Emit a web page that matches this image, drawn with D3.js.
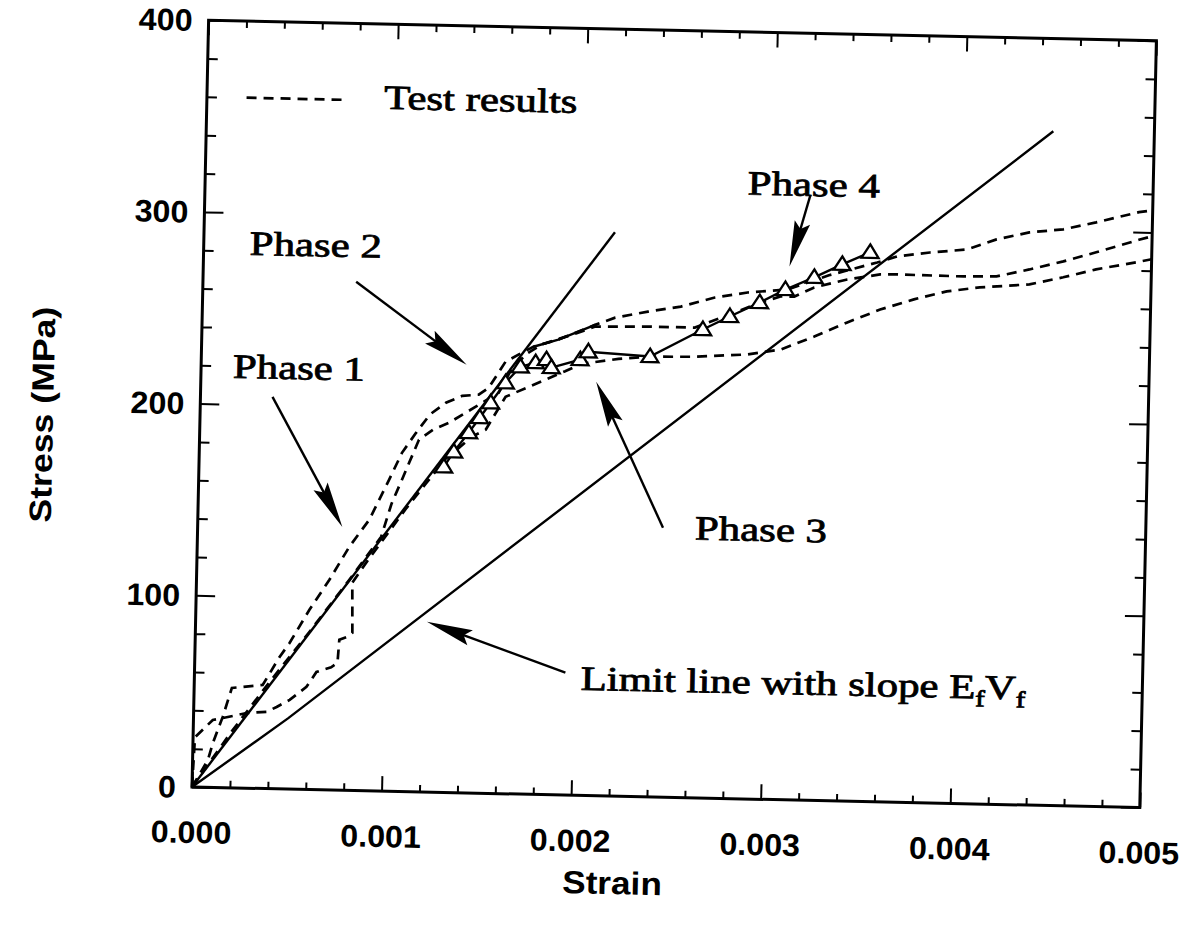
<!DOCTYPE html>
<html><head><meta charset="utf-8">
<script src="https://cdn.jsdelivr.net/npm/d3@7"></script>
<style>body{margin:0;background:#fff}</style>
</head><body>
<svg id="chart" width="1184" height="927"></svg>
<script>
// ---------- axis ticks ----------
const xTicks = [0, 0.001, 0.002, 0.003, 0.004, 0.005];
const xTickLabels = ["0.000", "0.001", "0.002", "0.003", "0.004", "0.005"];
const xMinorTicks = [0.0002,0.0004,0.0006,0.0008,0.0012,0.0014,0.0016,0.0018,0.0022,0.0024,0.0026,0.0028,0.0032,0.0034,0.0036,0.0038,0.0042,0.0044,0.0046,0.0048];
const yTicks = [0, 100, 200, 300, 400];
const yTickLabels = ["0", "100", "200", "300", "400"];
const yMinorTicks = [20,40,60,80,120,140,160,180,220,240,260,280,320,340,360,380];

// ---------- test results (dashed) ----------
const test1Strain = [0,0.000081,0.000105,0.000154,0.000199,0.000361,0.000447,0.000498,0.000599,0.000701,0.000802,0.000904,0.001004,0.001069,0.001141,0.001213,0.001295,0.001380,0.001467,0.001519,0.001605,0.001672,0.001750,0.001881,0.002073,0.002178,0.002350,0.002523,0.002701,0.002873,0.003083,0.003300,0.003553,0.003657,0.003830,0.004024,0.004180,0.004352,0.004531,0.004703,0.004928,0.005000];
const test1Stress = [0,14.3,23.2,36.9,52.1,54.0,68.8,76.2,93.7,109.6,127.0,141.3,162.4,176.6,187.2,197.0,203.2,207.0,207.8,211.5,225.3,229.1,233.4,237.4,245.5,249.5,253.0,256.0,261.1,264.1,266.1,274.0,281.2,284.6,287.0,289.0,294.6,298.6,300.6,304.6,310.4,311.5];

const test2Strain = [0,0.0002,0.0004,0.0006,0.0008,0.000969,0.00102,0.001072,0.001157,0.00123,0.001313,0.001453,0.001572,0.00164,0.00172,0.0018,0.00195,0.002074,0.002352,0.002599,0.002807,0.002943,0.003047,0.00312,0.003224,0.003397,0.00357,0.003659,0.004011,0.004184,0.004357,0.004535,0.004707,0.004931,0.005];
const test2Stress = [0,29,56,82,109,132.6,150,162.6,183.6,189,192.8,201.5,209,222,230,235,240,244.6,245.2,245.2,253.5,259,262.4,262.5,267.5,272,275,275.2,274.9,275.3,279.3,283.9,289,296,298];

const test3Strain = [0,0.00001,0.000102,0.000155,0.00028,0.000385,0.000437,0.000505,0.000592,0.000643,0.00072,0.000753,0.00076,0.0008,0.000828,0.000822,0.0009,0.001,0.0011,0.0012,0.0013,0.00136,0.001435,0.001508,0.001609,0.00172,0.001817,0.00192,0.002004,0.0022,0.002356,0.0026,0.00288,0.003053,0.00323,0.003402,0.003574,0.003751,0.003923,0.004097,0.004359,0.004536,0.004708,0.004918,0.005];
const test3Stress = [0,26,35.2,36.3,39.2,40,42.7,46.5,53.5,61.4,64,66.4,78.4,80,82.2,108.3,120,134,148,161,174,179,185.8,189.6,207,212,216.4,221,225,228,229.5,230,231.8,234.7,241.9,249.6,256.7,262.4,266.9,269.4,271.5,275.6,280.1,284.2,286];

// solid fragment of a test curve
const fragStrain = [0.00175, 0.001881, 0.002073];
const fragStress = [233.4, 237.4, 245.5];

// ---------- model (solid with triangles) ----------
const modelStrain = [0.001291,0.001342,0.001419,0.001475,0.001531,0.001607,0.001684,0.001763,0.00182,0.001847,0.001998,0.00204,0.002366,0.002641,0.002782,0.002938,0.003072,0.003223,0.003369,0.003515];
const modelStress = [169.8,177.7,187.9,195.8,203.7,214.3,222.8,225.1,226.8,222.7,227.2,231.4,229.6,244.3,251.4,259.0,266.1,272.7,279.8,286.4];

// phase-1 straight line and limit line
const phase1LineStrain = [0, 0.002167];
const phase1LineStress = [0, 294];
const limitStrain = [0, 0.0005, 0.004467];
const limitStress = [0, 37, 351.6];

// ---------- annotations (data coordinates) ----------
const arrowTails = [[0.00038,204.3],[0.000808,265.3],[0.002454,140.5],[0.003193,315.4],[0.001956,63.8]];
const arrowTips  = [[0.000763,137.3],[0.0014,223.3],[0.002085,215.9],[0.003091,278.1],[0.00122,88.8]];
const phaseLabels = ["Phase 1","Phase 2","Phase 3","Phase 4"];
const phaseLabelPos = [[0.000168,213.8],[0.000243,278.1],[0.002623,134.7],[0.002862,315.2]];
const legendLine = [[0.000209,360],[0.000734,360]];
const legendText = "Test results";
const legendTextPos = [0.000935,355.8];
const limitLabelPos = [0.002037,55.1];

// ---------- drawing ----------
const svg = d3.select('#chart');
const L = 192, T = 20, W = 948, H = 767;
const g = svg.append('g').attr('transform', `rotate(1.24, ${L}, ${T + H})`);
const x = d3.scaleLinear().domain([0, 0.005]).range([L, L + W]);
const y = d3.scaleLinear().domain([0, 400]).range([T + H, T]);
const SX = 1.26;
const serif = "'Liberation Serif','Times New Roman',serif";
const sans = "'Liberation Sans',Arial,sans-serif";

function addAxis(axisGen, transform, vals, size) {
  const a = g.append('g').attr('transform', transform)
    .call(axisGen.tickValues(vals).tickSize(size).tickFormat(''));
  a.select('.domain').remove();
  a.selectAll('line').attr('stroke', '#000').attr('stroke-width', 2);
}
addAxis(d3.axisBottom(x), `translate(0,${T + H})`, xTicks, -15);
addAxis(d3.axisBottom(x), `translate(0,${T + H})`, xMinorTicks, -7);
addAxis(d3.axisTop(x), `translate(0,${T})`, xTicks, -15);
addAxis(d3.axisTop(x), `translate(0,${T})`, xMinorTicks, -7);
addAxis(d3.axisLeft(y), `translate(${L},0)`, yTicks, -19);
addAxis(d3.axisLeft(y), `translate(${L},0)`, yMinorTicks, -10);
addAxis(d3.axisRight(y), `translate(${L + W},0)`, yTicks, -19);
addAxis(d3.axisRight(y), `translate(${L + W},0)`, yMinorTicks, -10);

g.append('rect').attr('x', L).attr('y', T).attr('width', W).attr('height', H)
  .attr('fill', 'none').attr('stroke', '#000').attr('stroke-width', 3);

// tick labels
xTicks.forEach((v, i) => {
  g.append('text').attr('transform', `translate(${x(v)},${T + H + 56}) scale(1.04,1)`)
    .attr('text-anchor', 'middle').attr('font-family', sans).attr('font-weight', 'bold')
    .attr('font-size', 31).text(xTickLabels[i]);
});
yTicks.forEach((v, i) => {
  g.append('text').attr('transform', `translate(${L - 16},${y(v) + 11}) scale(1.04,1)`)
    .attr('text-anchor', 'end').attr('font-family', sans).attr('font-weight', 'bold')
    .attr('font-size', 31).text(yTickLabels[i]);
});
// axis titles
g.append('text').attr('transform', `translate(${L + 422},${T + H + 98}) scale(1.1,1)`)
  .attr('text-anchor', 'middle').attr('font-family', sans).attr('font-size', 32)
  .attr('font-weight', 'bold').text('Strain');
g.append('text').attr('transform', `translate(45,418) rotate(-90) scale(1.15,1)`)
  .attr('text-anchor', 'middle').attr('font-family', sans).attr('font-size', 31)
  .attr('font-weight', 'bold').text('Stress (MPa)');

const line = d3.line().x(d => x(d[0])).y(d => y(d[1]));
function series(xs, ys) { return d3.zip(xs, ys); }

// dashed test curves
[[test1Strain, test1Stress], [test2Strain, test2Stress], [test3Strain, test3Stress]].forEach(([xs, ys]) => {
  g.append('path').datum(series(xs, ys)).attr('d', line).attr('fill', 'none')
    .attr('stroke', '#000').attr('stroke-width', 2.7).attr('stroke-dasharray', '10,7');
});
// solid lines
[[fragStrain, fragStress], [phase1LineStrain, phase1LineStress], [limitStrain, limitStress]].forEach(([xs, ys]) => {
  g.append('path').datum(series(xs, ys)).attr('d', line).attr('fill', 'none')
    .attr('stroke', '#000').attr('stroke-width', 2.4);
});
// model with triangles
const modelData = series(modelStrain, modelStress);
g.append('path').datum(modelData).attr('d', line).attr('fill', 'none')
  .attr('stroke', '#000').attr('stroke-width', 2.4);
g.selectAll('.tri').data(modelData).enter().append('path')
  .attr('transform', d => `translate(${x(d[0])},${y(d[1])})`)
  .attr('d', 'M0,-8 L8.5,5.5 L-8.5,5.5 Z')
  .attr('fill', '#fff').attr('stroke', '#000').attr('stroke-width', 2.3);

// legend
g.append('path').datum(legendLine).attr('d', line).attr('fill', 'none')
  .attr('stroke', '#000').attr('stroke-width', 2.7).attr('stroke-dasharray', '10,7');
function serifText(pos, str) {
  return g.append('text').attr('transform', `translate(${x(pos[0])},${y(pos[1])}) scale(${SX},1)`)
    .attr('font-family', serif).attr('font-size', 34).attr('fill', '#000')
    .attr('stroke', '#000').attr('stroke-width', 0.8).text(str);
}
serifText(legendTextPos, legendText);
phaseLabels.forEach((s, i) => serifText(phaseLabelPos[i], s));
const lim = g.append('text').attr('transform', `translate(${x(limitLabelPos[0])},${y(limitLabelPos[1])}) scale(${SX},1)`)
  .attr('font-family', serif).attr('font-size', 34).attr('fill', '#000')
  .attr('stroke', '#000').attr('stroke-width', 0.8);
lim.append('tspan').text('Limit line with slope E');
lim.append('tspan').attr('font-size', 23).attr('dy', 8).text('f');
lim.append('tspan').attr('dy', -8).text('V');
lim.append('tspan').attr('font-size', 23).attr('dy', 8).text('f');

// arrows
arrowTails.forEach((t, i) => {
  const x0 = x(t[0]), y0 = y(t[1]), x1 = x(arrowTips[i][0]), y1 = y(arrowTips[i][1]);
  const dx = x1 - x0, dy = y1 - y0, len = Math.hypot(dx, dy);
  const ux = dx / len, uy = dy / len, nx = -uy, ny = ux;
  const hl = 46, hw = 8;
  g.append('line').attr('x1', x0).attr('y1', y0).attr('x2', x1 - ux * hl * 0.5).attr('y2', y1 - uy * hl * 0.5)
    .attr('stroke', '#000').attr('stroke-width', 2.4);
  g.append('path').attr('d', `M${x1},${y1} L${x1 - ux * hl + nx * hw},${y1 - uy * hl + ny * hw} L${x1 - ux * hl * 0.85},${y1 - uy * hl * 0.85} L${x1 - ux * hl - nx * hw},${y1 - uy * hl - ny * hw} Z`)
    .attr('fill', '#000');
});
</script>
</body></html>
